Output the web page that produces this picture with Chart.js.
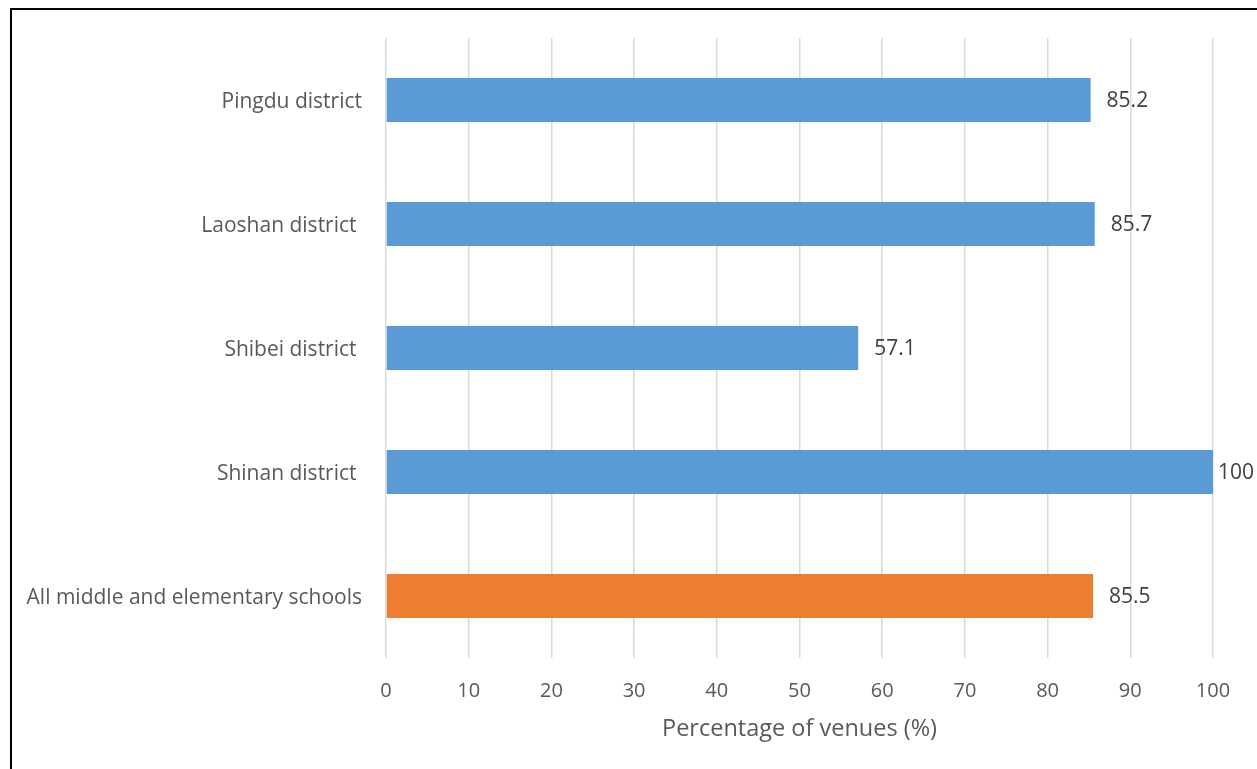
<!DOCTYPE html>
<html>
<head>
<meta charset="utf-8">
<script src="https://cdn.jsdelivr.net/npm/chart.js@4/dist/chart.umd.min.js"></script>
<style>
  html, body { margin: 0; padding: 0; background: #fff; }
  #wrap { position: relative; width: 1257px; height: 769px; overflow: hidden; background: #fff; }
  #frame { position: absolute; left: 10px; top: 8px; width: 1400px; height: 900px; border-left: 2px solid #000; border-top: 2px solid #000; pointer-events: none; }
  canvas { position: absolute; left: 0; top: 0; }
</style>
</head>
<body>
<div id="wrap">
  <canvas id="c" width="1257" height="769"></canvas>
  <div id="frame"></div>
</div>
<script>
const categories = ["Pingdu district", "Laoshan district ", "Shibei district ", "Shinan district ", "All middle and elementary schools"];
const values = [85.2, 85.7, 57.1, 100, 85.5];
const barColors = ["#5B9BD5", "#5B9BD5", "#5B9BD5", "#5B9BD5", "#ED7D31"];
const xTicks = [0, 10, 20, 30, 40, 50, 60, 70, 80, 90, 100];
const xTitle = "Percentage of venues (%)";

const FONT = "'Open Sans', sans-serif";

const dataLabels = {
  id: 'dataLabels',
  afterDatasetsDraw(chart) {
    const ctx = chart.ctx;
    const meta = chart.getDatasetMeta(0);
    ctx.save();
    ctx.font = "21px " + FONT;
    ctx.fillStyle = "#404040";
    ctx.textBaseline = "middle";
    ctx.textAlign = "left";
    meta.data.forEach((bar, i) => {
      const txt = String(values[i]);
      const w = ctx.measureText(txt).width;
      let x = bar.x + 16;
      if (x + w > chart.width - 3) x = chart.width - 3 - w;
      ctx.fillText(txt, x, bar.y + 1);
    });
    ctx.restore();
  }
};

new Chart(document.getElementById('c'), {
  type: 'bar',
  data: {
    labels: categories,
    datasets: [{
      data: values,
      backgroundColor: barColors,
      borderWidth: 0,
      barPercentage: 0.355,
      categoryPercentage: 1.0
    }]
  },
  options: {
    indexAxis: 'y',
    responsive: false,
    animation: false,
    devicePixelRatio: 1,
    layout: { padding: { left: 0, right: 44, top: 38, bottom: 0 } },
    plugins: { legend: { display: false }, tooltip: { enabled: false } },
    scales: {
      x: {
        min: 0, max: 100,
        afterBuildTicks(scale) { scale.ticks = xTicks.map(v => ({ value: v })); },
        afterFit(scale) { scale.height = 111; },
        grid: { color: "#d9d9d9", lineWidth: 1.5, drawTicks: false },
        border: { display: false },
        ticks: { color: "#595959", font: { family: FONT, size: 20 }, padding: 21 },
        title: { display: true, text: xTitle, color: "#595959", font: { family: FONT, size: 23.5 }, padding: { top: 0, bottom: 26 } }
      },
      y: {
        afterFit(scale) { scale.width = 386; },
        grid: { display: false, drawTicks: false },
        border: { display: false },
        ticks: { color: "#595959", font: { family: FONT, size: 21 }, padding: 24, labelOffset: 2 }
      }
    }
  },
  plugins: [dataLabels]
});
</script>
</body>
</html>
